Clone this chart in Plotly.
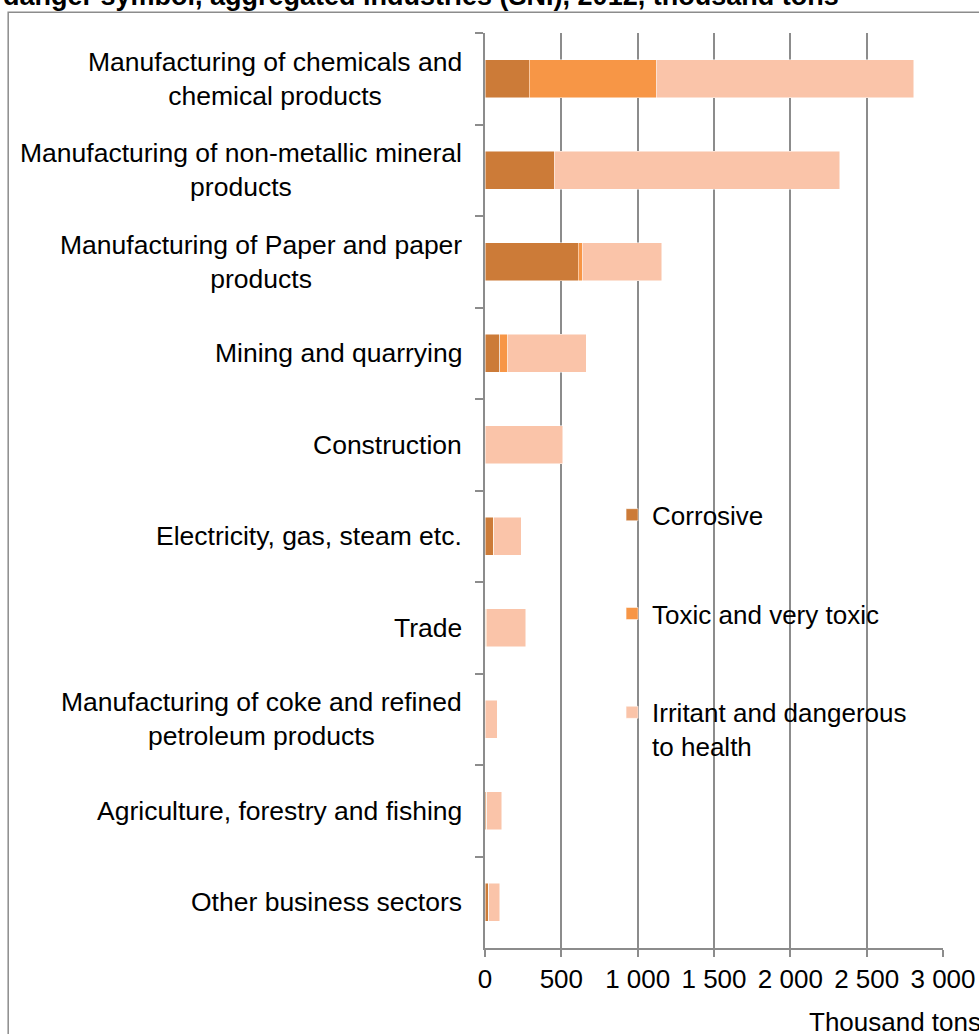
import plotly.graph_objects as go

# industries, top to bottom
industries = [
    "Manufacturing of chemicals and<br>chemical products",
    "Manufacturing of non-metallic mineral<br>products",
    "Manufacturing of Paper and paper<br>products",
    "Mining and quarrying",
    "Construction",
    "Electricity, gas, steam etc.",
    "Trade",
    "Manufacturing of coke and refined<br>petroleum products",
    "Agriculture, forestry and fishing",
    "Other business sectors",
]

# thousand tons
corrosive = [290, 452, 612, 98, 2, 55, 5, 1, 10, 24]
toxic = [831, 0, 24, 51, 0, 3, 6, 1, 1, 1]
irritant = [1689, 1873, 522, 515, 507, 178, 256, 77, 98, 71]

series_names = ["Corrosive", "Toxic and very toxic", "Irritant and dangerous<br>to health"]
series_colors = ["#CC7B38", "#F79646", "#FAC4A9"]

FONT = "Liberation Sans, Arial, sans-serif"
GRID = "#8C8C8C"

# plot area in pixels
L, R, T, B = 485, 942.7, 32.7, 947.7
W, H = 979, 1034
pw, ph = R - L, B - T


def px_x(x):
    return (x - L) / pw


def px_y(y):
    return 1 - (y - T) / ph


fig = go.Figure()
for i, (name, vals, col) in enumerate(zip(series_names, [corrosive, toxic, irritant], series_colors)):
    fig.add_trace(go.Bar(
        y=industries, x=vals, name=name, orientation="h",
        marker=dict(color=col, line=dict(color="rgba(255,255,255,0.7)", width=0.7)),
        legendgroup=f"g{i}",
    ))

# category labels: block right-aligned, lines centred on each other
for lab in industries:
    fig.add_annotation(
        x=px_x(464), xref="paper", y=lab, yref="y",
        text=lab, showarrow=False, xanchor="right", yanchor="middle",
        align="center", font=dict(family=FONT, size=26.5, color="black"),
    )

# title, cut off at the top as in the source
fig.add_annotation(
    x=px_x(1), xref="paper", y=px_y(13), yref="paper",
    text="<b>danger symbol, aggregated industries (SNI), 2012, thousand tons</b>",
    showarrow=False, xanchor="left", yanchor="bottom",
    font=dict(family=FONT, size=27, color="black"),
)

fig.add_annotation(
    x=px_x(807), xref="paper", y=px_y(1022), yref="paper",
    text="Thousand tons", showarrow=False, xanchor="left", yanchor="middle",
    font=dict(family=FONT, size=26, color="black"),
)

# chart frame
fig.add_shape(
    type="rect", xref="paper", yref="paper",
    x0=px_x(8.5), x1=px_x(1000), y0=px_y(12), y1=px_y(1050),
    line=dict(color="#8C8C8C", width=1.5), layer="below",
)

fig.update_layout(
    barmode="stack",
    bargap=0.59,
    width=W, height=H,
    margin=dict(l=L, r=W - R, t=T, b=H - B, autoexpand=False),
    plot_bgcolor="white", paper_bgcolor="white",
    font=dict(family=FONT, size=26, color="black"),
    separators=", ",
    showlegend=True,
    legend=dict(
        x=px_x(612), y=px_y(491), xanchor="left", yanchor="top",
        bgcolor="rgba(0,0,0,0)", traceorder="grouped", tracegroupgap=62,
        valign="top", font=dict(family=FONT, size=26, color="black"),
    ),
    xaxis=dict(
        range=[0, 3000], dtick=500, tick0=0,
        separatethousands=True,
        showgrid=True, gridcolor=GRID, gridwidth=1.5,
        zeroline=False,
        showline=True, linecolor=GRID, linewidth=1.5,
        ticks="outside", ticklen=7, tickcolor=GRID, tickwidth=1.5,
        tickfont=dict(family=FONT, size=26, color="black"),
    ),
    yaxis=dict(
        autorange="reversed",
        showticklabels=False,
        showgrid=False, zeroline=False,
        showline=True, linecolor=GRID, linewidth=1.5,
        ticks="outside", tickson="boundaries", ticklen=8,
        tickcolor=GRID, tickwidth=1.5,
    ),
)

# page without the default body margin so the figure sits at the top-left corner
fig.write_html(
    "out.html",
    config={"displayModeBar": False},
    post_script="document.body.style.margin='0';document.body.style.overflow='hidden';",
)
